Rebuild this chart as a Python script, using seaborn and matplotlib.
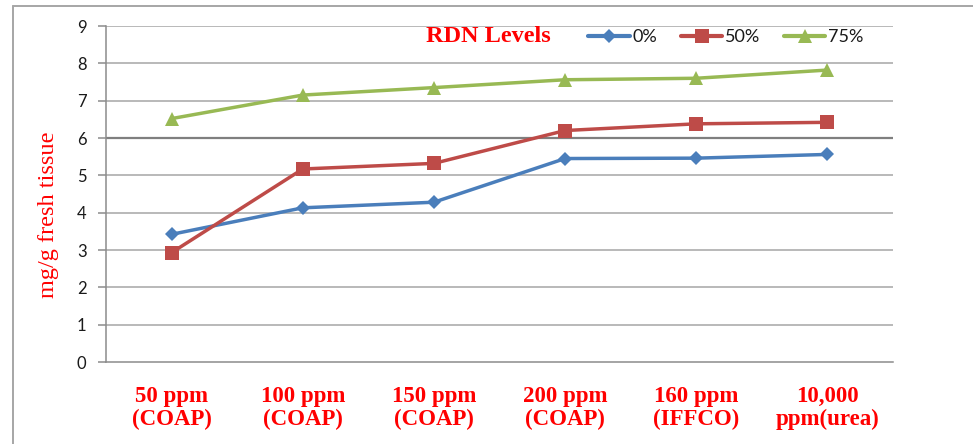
import numpy as np
import pandas as pd
import matplotlib
matplotlib.use("Agg")
import matplotlib.pyplot as plt
from matplotlib.lines import Line2D
import seaborn as sns

categories = ["50 ppm\n(COAP)", "100 ppm\n(COAP)", "150 ppm\n(COAP)",
              "200 ppm\n(COAP)", "160 ppm\n(IFFCO)", "10,000\nppm(urea)"]
levels = ["0%", "50%", "75%"]
vals_0 = [3.42, 4.13, 4.28, 5.45, 5.46, 5.56]
vals_50 = [2.93, 5.17, 5.32, 6.20, 6.38, 6.42]
vals_75 = [6.52, 7.15, 7.35, 7.56, 7.60, 7.82]
y_ticks = [0, 1, 2, 3, 4, 5, 6, 7, 8, 9]

colors = {"0%": "#4A7EBB", "50%": "#BE4B48", "75%": "#98B954"}
markers = {"0%": "D", "50%": "s", "75%": "^"}
msizes = {"0%": 7.5, "50%": 10, "75%": 10.5}

pos = np.arange(len(categories))
df = pd.DataFrame({
    "pos": np.tile(pos, 3),
    "val": vals_0 + vals_50 + vals_75,
    "level": np.repeat(levels, len(categories)),
})

sns.set_style("white")
plt.rcParams["font.family"] = ["Lato", "DejaVu Sans"]

fig = plt.figure(figsize=(9.73, 4.44), dpi=100)
ax = fig.add_axes([106 / 973, 1 - 362 / 444, (893 - 106) / 973, (362 - 26) / 444])

for lv in levels:
    sub = df[df["level"] == lv]
    sns.lineplot(data=sub, x="pos", y="val", ax=ax, color=colors[lv],
                 marker=markers[lv], markersize=msizes[lv], linewidth=2.5,
                 markeredgewidth=0, label=lv, legend=False, zorder=3)

ax.set_xlim(-0.5, len(categories) - 0.5)
ax.set_ylim(0, 9)
ax.set_yticks(y_ticks)
ax.set_yticklabels([str(t) for t in y_ticks], fontsize=12, color="#1a1a1a")

# gridlines
for t in y_ticks[1:]:
    lw = 1.6 if t == 6 else 1.1
    c = "#7f7f7f" if t == 6 else "#a6a6a6"
    ax.axhline(t, color=c, linewidth=lw, zorder=1)

ax.set_xticks(np.arange(-0.5, len(categories), 1.0))
ax.set_xticklabels([])
ax.set_xticks(pos, minor=True)
ax.set_xticklabels(categories, minor=True, fontsize=16.5, color="#ff0000",
                   fontweight="bold", family=["Liberation Serif"], linespacing=1.12)
ax.tick_params(axis="x", which="major", length=6, width=1.1, color="#8c8c8c", direction="out")
ax.tick_params(axis="x", which="minor", length=0, pad=17)
ax.tick_params(axis="y", which="major", length=6, width=1.1, color="#8c8c8c", pad=8, left=True)

for s in ["top", "right"]:
    ax.spines[s].set_visible(False)
ax.spines["left"].set_color("#8c8c8c")
ax.spines["left"].set_linewidth(1.1)
ax.spines["bottom"].set_color("#8c8c8c")
ax.spines["bottom"].set_linewidth(1.1)

ax.set_xlabel("")
ax.set_ylabel("mg/g fresh tissue", fontsize=17.5, color="#ff0000",
              family=["Liberation Serif"])
ax.yaxis.set_label_coords(-(106 - 59) / 787, (362 - 215) / (362 - 26))

handles = [Line2D([0], [0], color=colors[lv], marker=markers[lv],
                  markersize=msizes[lv] * 0.95, linewidth=3.0, markeredgewidth=0)
           for lv in levels]
fig.legend(handles, levels, loc="center", bbox_to_anchor=(726 / 973, 1 - 37 / 444),
           ncol=3, frameon=False, handlelength=2.3, handletextpad=0.15,
           columnspacing=1.3, fontsize=13, labelcolor="#1a1a1a")
fig.text(488 / 973, 1 - 37 / 444, "RDN Levels", ha="center", va="center",
         fontsize=17.5, fontweight="bold", color="#ff0000", family=["Liberation Serif"])

# outer frame (top and left)
fig.add_artist(Line2D([13 / 973, 13 / 973], [0, 1 - 6 / 444], color="#a6a6a6",
                      linewidth=1.4, transform=fig.transFigure))
fig.add_artist(Line2D([13 / 973, 1], [1 - 6 / 444, 1 - 6 / 444], color="#a6a6a6",
                      linewidth=1.4, transform=fig.transFigure))

fig.savefig("out.png", dpi=100)
